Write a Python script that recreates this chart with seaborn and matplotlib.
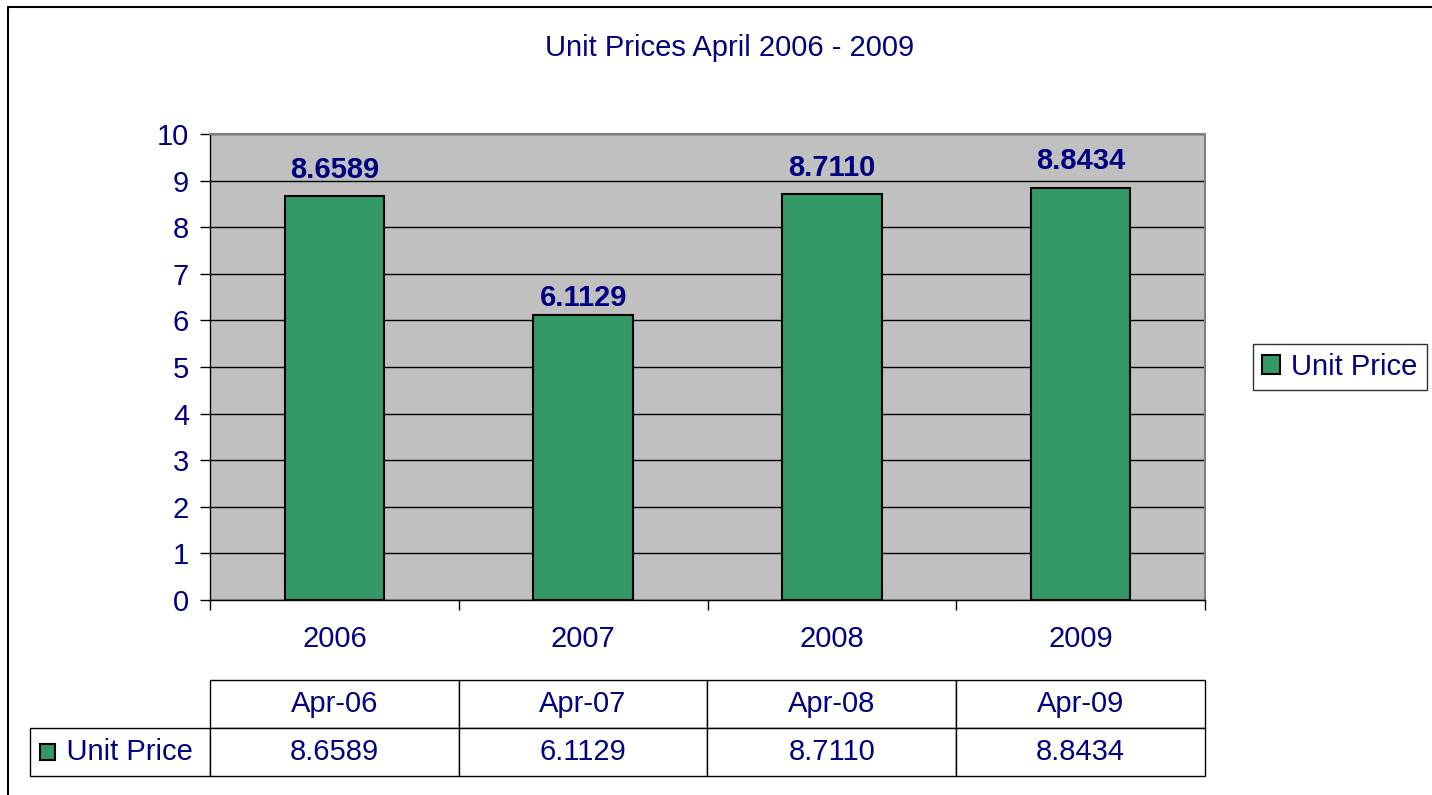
import numpy as np
import pandas as pd
import matplotlib
matplotlib.use("Agg")
import matplotlib.pyplot as plt
from matplotlib.patches import Rectangle
from matplotlib.lines import Line2D
import seaborn as sns

years = ["2006", "2007", "2008", "2009"]
months = ["Apr-06", "Apr-07", "Apr-08", "Apr-09"]
prices = [8.6589, 6.1129, 8.7110, 8.8434]
series_name = "Unit Price"
title = "Unit Prices April 2006 - 2009"

navy = "#000080"
green = "#339966"

sns.set_style("white")
plt.rcParams["font.family"] = ["Liberation Sans", "DejaVu Sans"]

W, H = 1432, 795
fig = plt.figure(figsize=(W / 100, H / 100), dpi=100)

def px(x0, y0, x1, y1):
    # pixel box -> figure fraction [left, bottom, width, height]
    return [x0 / W, 1 - y1 / H, (x1 - x0) / W, (y1 - y0) / H]

ax = fig.add_axes(px(210, 134, 1205, 600))
df = pd.DataFrame({"year": years, "price": prices})
sns.barplot(data=df, x="year", y="price", color=green, saturation=1,
            edgecolor="black", linewidth=1.5, width=0.4, ax=ax)

ax.set_facecolor("#C0C0C0")
ax.set_ylim(0, 10)
ax.set_xlim(-0.5, 3.5)
ax.set_yticks(range(0, 11))
ax.yaxis.grid(True, color="black", lw=1)
ax.set_axisbelow(True)
ax.set_xlabel("")
ax.set_ylabel("")

for s in ["top", "right"]:
    ax.spines[s].set_color("#808080")
    ax.spines[s].set_linewidth(1.5)
for s in ["left", "bottom"]:
    ax.spines[s].set_color("black")
    ax.spines[s].set_linewidth(1)

ax.tick_params(axis="y", direction="out", length=7, width=1, color="black",
               labelsize=21, labelcolor=navy, pad=8, left=True)
ax.set_xticks(np.arange(-0.5, 4.0, 1.0), minor=True)
ax.tick_params(axis="x", which="minor", direction="out", length=7, width=1,
               color="black", bottom=True)
ax.tick_params(axis="x", which="major", length=0, labelsize=21,
               labelcolor=navy, pad=18)

# value labels (excel sets the short bar's label a bit closer)
label_pad = [9, 2, 9, 9]
for bar, pad in zip(ax.containers[0], label_pad):
    ax.annotate(f"{bar.get_height():.4f}",
                (bar.get_x() + bar.get_width() / 2, bar.get_height()),
                xytext=(0, pad), textcoords="offset points",
                ha="center", va="bottom", fontsize=21,
                fontweight="bold", color=navy)

fig.text(730 / W, 1 - 48 / H, title, ha="center", va="center",
         fontsize=21, color=navy)

# legend on the right
leg = fig.legend(handles=[Rectangle((0, 0), 1, 1, facecolor=green,
                                    edgecolor="black", lw=1.5)],
                 labels=[series_name], loc="center",
                 bbox_to_anchor=(1340 / W, 1 - 367 / H),
                 fontsize=21, frameon=True, fancybox=False,
                 handlelength=0.6, handleheight=0.6, handletextpad=0.4,
                 borderpad=0.3, labelcolor=navy)
leg.get_frame().set_edgecolor("black")
leg.get_frame().set_linewidth(1)

# data table below the chart
tax = fig.add_axes(px(30, 680, 1205, 776))
tax.axis("off")
cell_text = [[""] + months,
             ["    " + series_name] + [f"{v:.4f}" for v in prices]]
tbl = tax.table(cellText=cell_text, bbox=[0, 0, 1, 1],
                colWidths=[180] + [249] * len(months), cellLoc="center")
tbl.auto_set_font_size(False)
for (r, c), cell in tbl.get_celld().items():
    cell.set_edgecolor("black")
    cell.set_linewidth(1)
    cell.get_text().set_fontsize(21)
    cell.get_text().set_color(navy)
    if c == 0:
        cell.get_text().set_ha("left")
        cell._loc = "left"
        cell.PAD = 0.02
tbl[0, 0].visible_edges = ""
tbl[1, 0].visible_edges = "closed"

# legend key inside table
tax.add_patch(Rectangle((10 / 1175, 0.5 * (1 - 16 / 48) / 2),
                        15 / 1175, 16 / 96, transform=tax.transAxes,
                        facecolor=green, edgecolor="black", lw=1.5,
                        clip_on=False))

# outer chart border (top and left visible)
fig.add_artist(Line2D([8 / W, 1], [1 - 7 / H, 1 - 7 / H], color="black", lw=1.5))
fig.add_artist(Line2D([8 / W, 8 / W], [0, 1 - 7 / H], color="black", lw=1.5))

fig.savefig("out.png", dpi=100)
